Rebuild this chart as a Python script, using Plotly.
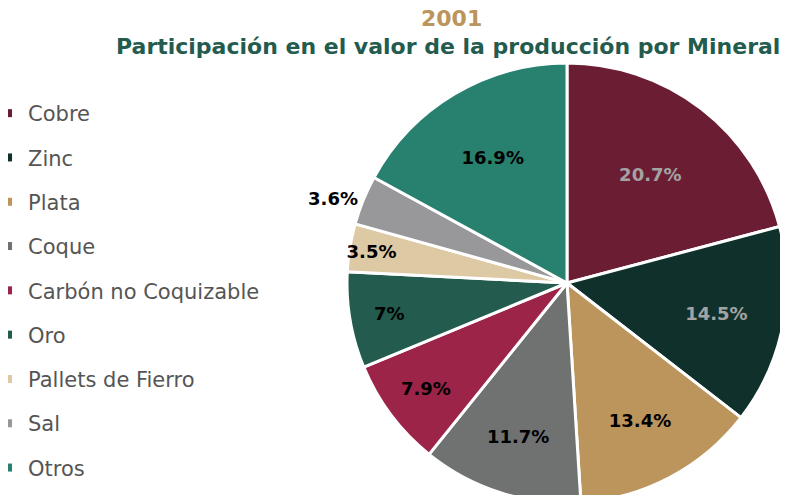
import plotly.graph_objects as go

labels = ["Cobre", "Zinc", "Plata", "Coque", "Carbón no Coquizable", "Oro",
          "Pallets de Fierro", "Sal", "Otros"]
values = [20.7, 14.5, 13.4, 11.7, 7.9, 7.0, 3.5, 3.6, 16.9]
value_text = ["20.7%", "14.5%", "13.4%", "11.7%", "7.9%", "7%", "3.5%", "3.6%", "16.9%"]
colors = ["#6B1E33", "#10312B", "#BC955C", "#6F7271", "#9D2449", "#235B4E",
          "#DDC9A3", "#98989A", "#28806F"]
text_colors = ["#A3A3A3", "#A3A3A3", "#000000", "#000000", "#000000", "#000000",
               "#000000", "#000000", "#000000"]
positions = ["inside"] * 7 + ["outside", "inside"]
title_year = "2001"
title_main = "Participación en el valor de la producción por Mineral"

W, H = 788, 495
FONT = "DejaVu Sans"
fig = go.Figure()
fig.add_trace(go.Pie(
    labels=labels, values=values, text=value_text, textinfo="text",
    sort=False, direction="clockwise", rotation=0, showlegend=False,
    marker=dict(colors=colors, line=dict(color="white", width=3)),
    textposition=positions, insidetextorientation="horizontal",
    textfont=dict(family=FONT, size=18, color=text_colors, weight="bold"),
    outsidetextfont=dict(family=FONT, size=18, color="#000000", weight="bold"),
    domain=dict(x=[339 / W, 779 / W], y=[0, 440 / H]),
    hoverinfo="label+percent",
))
# legend entries (one per slice)
for lab, col in zip(labels, colors):
    fig.add_trace(go.Scatter(
        x=[None], y=[None], mode="markers", name=lab, legendgroup=lab,
        marker=dict(symbol="square", size=8, color=col),
    ))

fig.update_layout(
    width=W, height=H,
    margin=dict(l=0, r=0, t=0, b=0, autoexpand=False),
    paper_bgcolor="white", plot_bgcolor="white",
    xaxis=dict(visible=False), yaxis=dict(visible=False),
    uniformtext=dict(minsize=18, mode="show"),
    annotations=[
        dict(text=title_year, x=443 / W, y=1 - 10 / H,
             xref="paper", yref="paper", showarrow=False, xanchor="center", yanchor="middle",
             font=dict(family=FONT, size=22, color="#BC955C", weight="bold")),
        dict(text=title_main, x=440 / W, y=1 - 39 / H,
             xref="paper", yref="paper", showarrow=False, xanchor="center", yanchor="middle",
             font=dict(family=FONT, size=22, color="#235B4E", weight="bold")),
    ],
    legend=dict(
        x=-0.0063, y=1 - 85 / H, xanchor="left", yanchor="top",
        font=dict(family=FONT, size=21, color="#555555"),
        tracegroupgap=14, itemwidth=30, indentation=-15, bgcolor="rgba(0,0,0,0)",
    ),
)

fig.write_html("out.html")
